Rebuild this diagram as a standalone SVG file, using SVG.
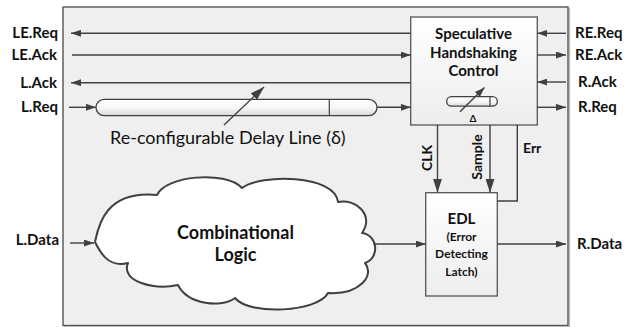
<svg xmlns="http://www.w3.org/2000/svg" width="639" height="327" viewBox="0 0 639 327">
  <defs>
    <linearGradient id="boxFill" x1="0" y1="0" x2="0" y2="1">
      <stop offset="0" stop-color="#ffffff"/>
      <stop offset="1" stop-color="#ededed"/>
    </linearGradient>
    <linearGradient id="pillFill" x1="0" y1="0" x2="0" y2="1">
      <stop offset="0" stop-color="#ffffff"/>
      <stop offset="0.55" stop-color="#f6f6f6"/>
      <stop offset="1" stop-color="#d9d9d9"/>
    </linearGradient>
    <marker id="arr" markerUnits="userSpaceOnUse" markerWidth="10" markerHeight="7" refX="10" refY="3.5" orient="auto">
      <path d="M0,0 L10,3.5 L0,7 Z" fill="#404040"/>
    </marker>
    <marker id="arrL" markerUnits="userSpaceOnUse" markerWidth="14" markerHeight="9" refX="14" refY="4.5" orient="auto">
      <path d="M0,0 L14,4.5 L0,9 Z" fill="#404040"/>
    </marker>
  </defs>
  <style>
    .frame { fill: #efefef; stroke: #555555; stroke-width: 1.4; }
    .shadow { fill: none; stroke: #b5b5b5; stroke-width: 1.2; }
    .box { fill: url(#boxFill); stroke: #555555; stroke-width: 1.3; }
    .pill { fill: url(#pillFill); stroke: #404040; stroke-width: 1.3; }
    .wire { fill: none; stroke: #404040; stroke-width: 1.4; }
    .tick { fill: none; stroke: #404040; stroke-width: 1.2; }
    .cloud { fill: #ffffff; stroke: #404040; stroke-width: 2; stroke-linejoin: round; }
    .lbl { font-family: Lato, "Open Sans", sans-serif; font-weight: bold; font-size: 15px; fill: #111111; }
    .end { text-anchor: end; }
    .mid { text-anchor: middle; }
    .note { font-family: Lato, "Open Sans", sans-serif; font-size: 18px; fill: #111111; }
  </style>

  <!-- enclosing stage -->
  <rect class="shadow" x="64.5" y="8.5" width="505" height="318.5"/>
  <rect class="frame" x="63" y="7" width="505" height="318.5"/>

  <!-- delay line on the request path -->
  <g id="delay-line">
    <rect class="pill" x="96" y="99.3" width="281" height="16.3" rx="8.15"/>
    <line class="tick" x1="329.3" y1="99.3" x2="329.3" y2="115.6"/>
    <text class="note" x="110" y="144">Re-configurable Delay Line (δ)</text>
  </g>

  <!-- handshake controller -->
  <g id="handshake-control">
    <rect class="box" x="410.7" y="17" width="126.6" height="108"/>
    <text class="lbl mid" x="473.5" y="39.3">Speculative</text>
    <text class="lbl mid" x="473.5" y="57.5">Handshaking</text>
    <text class="lbl mid" x="473.5" y="75.5">Control</text>
    <rect class="pill" x="446.7" y="96.7" width="50.6" height="9.4" rx="4.7"/>
    <line class="tick" x1="490" y1="96.7" x2="490" y2="106.1"/>
    <text class="lbl mid" x="473" y="121.8" style="font-size:10px">Δ</text>
  </g>

  <!-- combinational logic cloud -->
  <g id="combinational-logic">
    <path class="cloud" d="M95,242
      C98,228 104,190 157,195
      C165,176 225,170 242,188
      C260,174 335,174 338,202
      C355,198 375,215 362,233
      C378,235 380,258 365,263
      C375,275 360,295 328,293
      C318,312 250,316 235,298
      C222,308 188,305 178,285
      C155,290 120,282 128,263
      C108,268 100,252 95,242 Z"/>
    <text class="lbl mid" x="235.5" y="238.5" style="font-size:18px">Combinational</text>
    <text class="lbl mid" x="235.5" y="261" style="font-size:18px">Logic</text>
  </g>

  <!-- error detecting latch -->
  <g id="edl">
    <rect class="box" x="425.7" y="192.7" width="71.6" height="103.3"/>
    <text class="lbl mid" x="461.5" y="224" style="font-size:15px">EDL</text>
    <text class="lbl mid" x="461.5" y="241" style="font-size:12px">(Error</text>
    <text class="lbl mid" x="461.5" y="258" style="font-size:12px">Detecting</text>
    <text class="lbl mid" x="461.5" y="275.5" style="font-size:12px">Latch)</text>
  </g>

  <!-- port labels -->
  <g id="ports">
    <text class="lbl end" x="58" y="38.3">LE.Req</text>
    <text class="lbl end" x="57" y="60">LE.Ack</text>
    <text class="lbl end" x="57" y="87.7">L.Ack</text>
    <text class="lbl end" x="58" y="111.8">L.Req</text>
    <text class="lbl end" x="59" y="245">L.Data</text>
    <text class="lbl" x="575" y="38.3">RE.Req</text>
    <text class="lbl" x="575" y="60">RE.Ack</text>
    <text class="lbl" x="578" y="87.3">R.Ack</text>
    <text class="lbl" x="578" y="112">R.Req</text>
    <text class="lbl" x="577" y="249">R.Data</text>
    <text class="lbl mid" transform="translate(432,158) rotate(-90)" style="font-size:14px">CLK</text>
    <text class="lbl mid" transform="translate(482,157) rotate(-90)" style="font-size:14px">Sample</text>
    <text class="lbl" x="523" y="153" style="font-size:14px">Err</text>
  </g>

  <!-- connectors -->
  <g id="connectors">
    <path class="wire" d="M410.7,33.3 H71" marker-end="url(#arr)"/>
    <path class="wire" d="M72,55 H410.7" marker-end="url(#arr)"/>
    <path class="wire" d="M410.7,82.7 H71" marker-end="url(#arr)"/>
    <path class="wire" d="M69,107.3 H96" marker-end="url(#arr)"/>
    <path class="wire" d="M377,107.3 H410.7" marker-end="url(#arr)"/>
    <path class="wire" d="M566,33.3 H537.3" marker-end="url(#arr)"/>
    <path class="wire" d="M537.3,55 H566" marker-end="url(#arr)"/>
    <path class="wire" d="M566,82 H537.3" marker-end="url(#arr)"/>
    <path class="wire" d="M537.3,107.3 H566" marker-end="url(#arr)"/>
    <path class="wire" d="M437.5,125 V192.7" marker-end="url(#arrL)"/>
    <path class="wire" d="M490,125 V192.7" marker-end="url(#arrL)"/>
    <path class="wire" d="M517.3,125 V201 H497.3"/>
    <path class="wire" d="M70,243 H94" marker-end="url(#arr)"/>
    <path class="wire" d="M375,244 H425.7" marker-end="url(#arr)"/>
    <path class="wire" d="M497.3,244 H566" marker-end="url(#arr)"/>
    <path class="wire" d="M224,125 L264,87" marker-end="url(#arrL)"/>
    <path class="wire" d="M460,111.7 L484.5,87.5" marker-end="url(#arr)"/>
  </g>
</svg>
